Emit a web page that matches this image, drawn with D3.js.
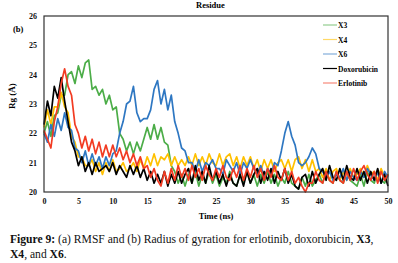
<!DOCTYPE html>
<html>
<head>
<meta charset="utf-8">
<script src="https://cdn.jsdelivr.net/npm/d3@7"></script>
<style>
  body { margin: 0; background: #fff; }
  text { font-family: "Liberation Serif", "DejaVu Serif", serif; }
</style>
</head>
<body>
<div id="chart"></div>
<script>
// sampling step of the read-off traces (ns), 20 samples per row below
const STEP = 0.5;

const seriesNames = ["X3", "X4", "X6", "Doxorubicin", "Erlotinib"];

const x3 = [
  22.0,22.4,21.9,22.6,22.7,23.3,23.3,24.0,24.1,23.7,24.3,23.9,24.4,24.5,23.5,23.6,23.3,23.5,23.0,23.3,
  22.8,22.9,22.0,21.8,21.4,21.7,21.3,21.7,21.4,21.8,22.2,21.8,22.3,21.8,22.2,21.7,21.6,20.9,20.7,20.3,
  20.6,20.2,20.6,20.3,20.7,20.2,20.6,20.3,20.7,20.3,20.6,20.2,20.5,20.3,20.7,20.3,20.2,20.6,20.3,20.7,
  20.3,20.6,20.2,20.6,20.3,20.7,20.3,20.6,20.2,20.5,20.3,20.7,20.3,20.2,20.1,20.5,20.2,20.6,20.2,20.4,
  20.6,20.3,20.7,20.4,20.3,20.7,20.4,20.3,20.7,20.4,20.3,20.2,20.6,20.2,20.7,20.4,20.3,20.7,20.4,20.3,
  20.6];

const x4 = [
  22.2,22.8,22.3,22.9,22.9,23.4,22.9,22.7,21.9,21.7,21.2,21.2,20.9,20.9,21.1,20.7,21.0,20.6,21.0,20.7,
  21.1,20.7,20.8,21.0,20.7,20.8,21.0,20.7,21.1,20.8,21.2,20.9,21.3,20.9,21.2,21.1,21.3,20.9,21.2,20.9,
  21.1,20.9,21.2,20.9,21.3,20.9,21.2,20.9,21.3,21.0,20.9,21.3,20.9,21.2,21.3,20.9,21.2,20.8,21.2,20.9,
  21.2,20.8,21.1,20.7,21.1,20.8,21.1,20.7,21.0,21.1,20.8,21.1,20.7,21.1,21.2,20.8,21.1,20.7,21.1,20.7,
  20.8,20.5,20.8,20.4,20.7,20.8,20.4,20.7,20.4,20.8,20.5,20.6,20.8,20.5,20.9,20.6,20.7,20.4,20.8,20.5,
  20.6];

const x6 = [
  22.0,21.7,22.3,21.9,22.5,22.1,22.7,22.2,22.1,21.5,21.4,21.0,21.4,20.9,21.3,20.9,21.2,20.8,21.2,20.9,
  21.3,21.4,22.0,22.4,23.0,23.1,23.6,22.7,22.4,22.5,22.5,22.8,23.5,23.8,23.0,23.5,22.8,23.3,22.4,22.0,
  21.5,21.4,21.0,21.0,20.7,21.1,20.7,21.0,20.9,21.1,20.8,20.8,20.6,21.1,20.9,20.7,21.0,20.6,21.0,20.8,
  21.1,20.8,20.6,20.9,20.5,20.8,20.6,21.0,20.9,21.4,22.0,22.4,21.9,21.6,21.0,20.9,21.0,21.2,21.5,21.3,
  20.8,20.7,20.5,20.7,20.4,20.6,20.5,20.8,20.4,20.7,20.5,20.4,20.7,20.5,20.8,20.6,20.4,20.7,20.3,20.7,
  20.5];

const doxorubicin = [
  22.3,23.1,22.6,23.6,23.2,23.9,23.1,22.4,21.7,21.4,20.9,21.2,20.7,21.0,20.6,21.0,20.7,20.8,20.9,20.7,
  21.0,20.6,20.9,20.7,20.5,20.9,20.6,20.9,20.5,20.8,20.4,20.7,20.3,20.6,20.3,20.7,20.2,20.6,20.3,20.7,
  20.3,20.6,20.8,20.3,20.9,20.4,20.7,20.3,20.9,20.4,20.7,20.3,20.6,20.2,20.6,20.3,20.2,20.6,20.2,20.7,
  20.3,20.6,20.8,20.3,20.7,20.4,20.8,20.3,20.7,20.4,20.8,20.3,20.6,20.2,20.1,20.5,20.6,20.2,20.7,20.3,
  20.6,20.8,20.4,20.9,20.5,20.4,20.8,20.4,20.9,20.5,20.4,20.8,20.4,20.7,20.3,20.7,20.4,20.8,20.3,20.6,
  20.2];

const erlotinib = [
  22.1,21.8,21.5,22.4,22.9,23.7,24.2,23.6,23.3,22.3,22.0,21.5,21.9,21.4,21.8,21.3,21.7,21.2,21.6,21.2,
  21.6,21.2,21.5,21.1,21.4,21.0,21.3,20.9,21.2,20.8,20.9,20.5,20.8,20.4,20.2,20.7,20.3,20.8,20.4,20.9,
  20.5,20.8,20.4,20.9,20.5,20.8,20.4,20.9,20.6,20.4,20.8,20.5,20.9,20.5,20.4,20.8,20.5,20.9,20.4,20.8,
  20.5,20.9,20.5,20.8,20.4,20.8,20.5,20.9,20.5,20.4,20.8,20.4,20.7,20.3,20.5,20.2,20.0,20.3,20.3,20.7,
  20.4,20.3,20.7,20.4,20.3,20.7,20.4,20.3,20.7,20.4,20.8,20.4,20.7,20.9,20.6,20.4,20.7,20.3,20.7,20.4,
  20.6];

const xTicks = [0, 5, 10, 15, 20, 25, 30, 35, 40, 45, 50];
const yTicks = [20, 21, 22, 23, 24, 25, 26];

const colors = {
  "X3": "#4cad48",
  "X4": "#ffc000",
  "X6": "#2e77c2",
  "Doxorubicin": "#000000",
  "Erlotinib": "#f23b22"
};

const allSeries = [x3, x4, x6, doxorubicin, erlotinib];

const W = 398, H = 263;
const margin = {top: 16, right: 10, bottom: 71, left: 44};
const width = W - margin.left - margin.right;
const height = H - margin.top - margin.bottom;

const svg = d3.select("#chart").append("svg")
  .attr("width", W)
  .attr("height", H);

const g = svg.append("g")
  .attr("transform", "translate(" + margin.left + "," + margin.top + ")");

const x = d3.scaleLinear().domain([0, 50]).range([0, width]);
const y = d3.scaleLinear().domain([20, 26]).range([height, 0]);

// lines, first series drawn at the bottom
const line = d3.line()
  .x((d, i) => x(i * STEP))
  .y(d => y(d));

seriesNames.forEach(function(name, k) {
  g.append("path")
    .datum(allSeries[k])
    .attr("fill", "none")
    .attr("stroke", colors[name])
    .attr("stroke-width", 1.7)
    .attr("stroke-linejoin", "round")
    .attr("d", line);
});

// frame
g.append("rect")
  .attr("width", width)
  .attr("height", height)
  .attr("fill", "none")
  .attr("stroke", "#333")
  .attr("stroke-width", 1.2);

// axes
const xAxis = g.append("g")
  .attr("transform", "translate(0," + height + ")")
  .call(d3.axisBottom(x).tickValues(xTicks).tickSize(0).tickPadding(6));
const yAxis = g.append("g")
  .call(d3.axisLeft(y).tickValues(yTicks).tickFormat(d3.format("d")).tickSize(0).tickPadding(7));

[xAxis, yAxis].forEach(function(a) {
  a.select(".domain").remove();
  a.selectAll("text")
    .attr("font-family", "'Liberation Serif', serif")
    .attr("font-weight", "bold")
    .attr("font-size", 8)
    .attr("fill", "#111");
});

g.append("text")
  .attr("x", width / 2)
  .attr("y", height + 27)
  .attr("text-anchor", "middle")
  .attr("font-size", 8.5)
  .attr("font-weight", "bold")
  .text("Time (ns)");

svg.append("text")
  .attr("transform", "translate(15," + (margin.top + height / 2 - 8) + ") rotate(-90)")
  .attr("text-anchor", "middle")
  .attr("font-size", 9)
  .attr("font-weight", "bold")
  .text("Rg (Å)");

svg.append("text")
  .attr("x", 13)
  .attr("y", 32)
  .attr("font-size", 8.5)
  .attr("font-weight", "bold")
  .text("(b)");

svg.append("text")
  .attr("x", 196)
  .attr("y", 8)
  .attr("font-size", 8.5)
  .attr("font-weight", "bold")
  .text("Residue");

// legend
const legend = svg.append("g").attr("transform", "translate(323,25)");
seriesNames.forEach(function(name, i) {
  const row = legend.append("g").attr("transform", "translate(0," + (i * 14.5) + ")");
  row.append("line")
    .attr("x1", 0).attr("x2", 14)
    .attr("stroke", colors[name])
    .attr("stroke-opacity", name === "Doxorubicin" ? 1 : 0.6)
    .attr("stroke-width", 1.2);
  row.append("text")
    .attr("x", 15)
    .attr("y", 3)
    .attr("font-size", 7.5)
    .attr("font-weight", "bold")
    .text(name);
});

// caption
const cap1 = svg.append("text").attr("x", 10).attr("y", 243).attr("font-size", 11.6).attr("fill", "#111");
cap1.append("tspan").attr("font-weight", "bold").text("Figure 9:");
cap1.append("tspan").text(" (a) RMSF and (b) Radius of gyration for erlotinib, doxorubicin, ");
cap1.append("tspan").attr("font-weight", "bold").text("X3");
cap1.append("tspan").text(",");

const cap2 = svg.append("text").attr("x", 10).attr("y", 258).attr("font-size", 11.6).attr("fill", "#111");
cap2.append("tspan").attr("font-weight", "bold").text("X4");
cap2.append("tspan").text(", and ");
cap2.append("tspan").attr("font-weight", "bold").text("X6");
cap2.append("tspan").text(".");
</script>
</body>
</html>
